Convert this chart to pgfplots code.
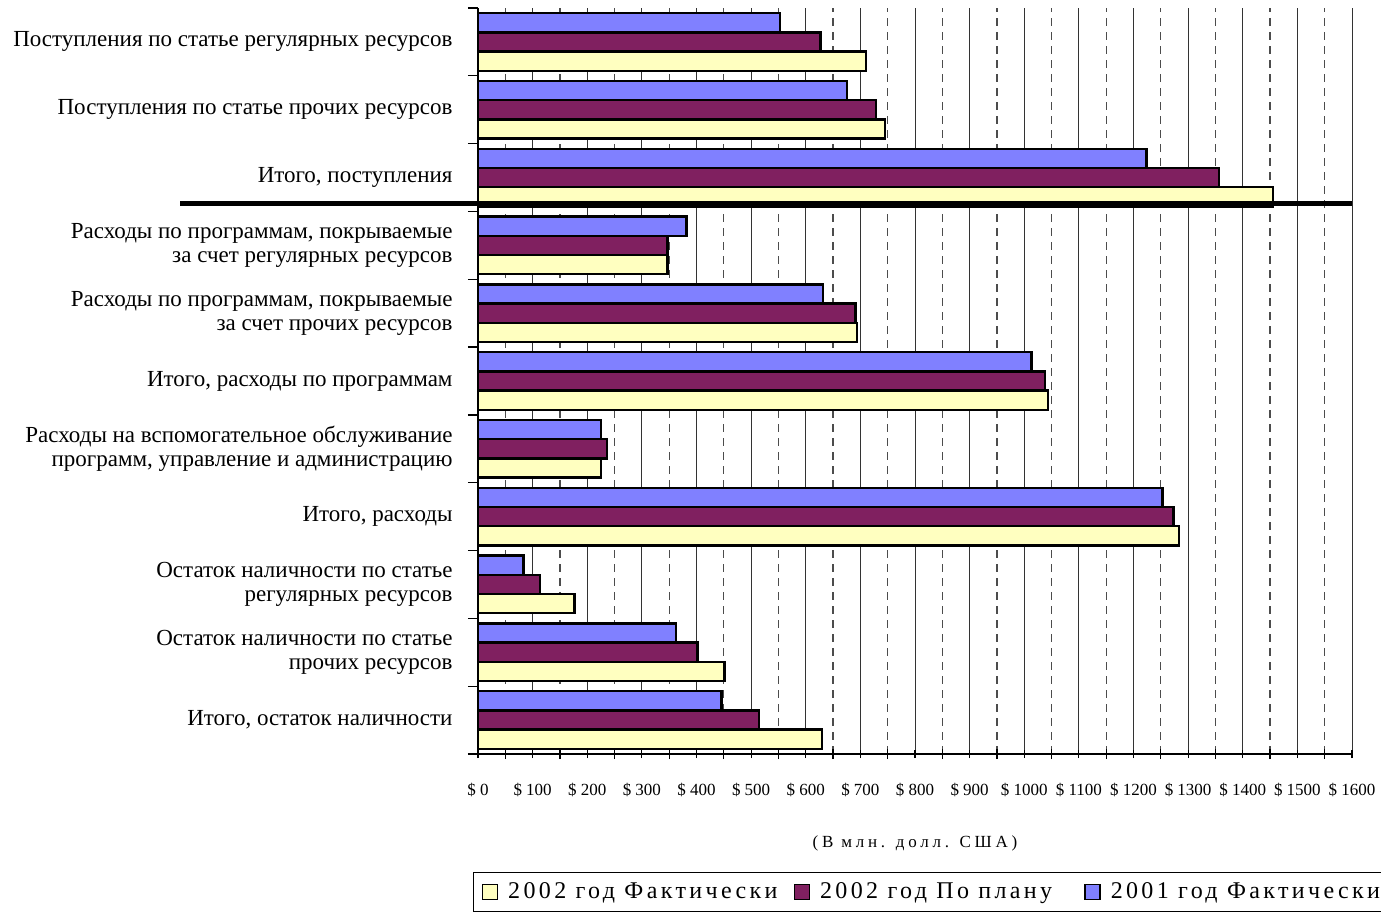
\documentclass[border=0pt]{standalone}
\usepackage{pgfplots}
\pgfplotsset{compat=1.18}
\usepackage{fontspec}
\setmainfont{Liberation Serif}
\newfontfamily\spacedA[LetterSpace=22]{Liberation Serif}
\newfontfamily\spacedB[LetterSpace=14]{Liberation Serif}
\definecolor{cyel}{HTML}{FFFFC0}
\definecolor{cpur}{HTML}{802060}
\definecolor{cblu}{HTML}{8080FF}
\begin{document}
\begin{tikzpicture}
\path[use as bounding box] (0,0) rectangle (690.5pt,457.5pt);
\begin{axis}[
 at={(239pt,80.5pt)}, anchor=south west,
 scale only axis, width=437pt, height=373pt,
 xbar, bar width=9.6pt,
 xmin=0, xmax=1600, ymin=-0.5, ymax=10.5,
 clip=false,
 axis x line=bottom, axis y line=left,
 axis line style={-, line width=0.7pt},
 xtick={0,100,...,1600},
 xticklabels={\$ 0,\$ 100,\$ 200,\$ 300,\$ 400,\$ 500,\$ 600,\$ 700,\$ 800,\$ 900,\$ 1000,\$ 1100,\$ 1200,\$ 1300,\$ 1400,\$ 1500,\$ 1600},
 minor xtick={50,150,...,1550},
 ytick={0,...,10},
 yticklabels={
  {Итого, остаток наличности},
  {Остаток наличности по статье\\прочих ресурсов},
  {Остаток наличности по статье\\регулярных ресурсов},
  {Итого, расходы},
  {Расходы на вспомогательное обслуживание\\программ, управление и администрацию},
  {Итого, расходы по программам},
  {Расходы по программам, покрываемые\\за счет прочих ресурсов},
  {Расходы по программам, покрываемые\\за счет регулярных ресурсов},
  {Итого, поступления},
  {Поступления по статье прочих ресурсов},
  {Поступления по статье регулярных ресурсов}},
 minor ytick={-0.5,0.5,...,10.5},
 tick align=outside,
 major tick length=4pt, minor tick length=5pt,
 tick style={black, line width=0.6pt},
 every major y tick/.append style={draw=none},
 every major x tick/.append style={yshift=2pt},
 every minor x tick/.append style={yshift=2.5pt},
 xmajorgrids, xminorgrids,
 major grid style={black!80, line width=0.5pt, solid},
 minor grid style={black!70, line width=0.6pt, dash pattern=on 4pt off 3pt},
 yticklabel style={align=right, font=\fontsize{11.5}{12}\selectfont, xshift=-5.2pt},
 xticklabel style={font=\fontsize{8.5}{10}\selectfont, yshift=-7pt},
 legend columns=3,
 legend style={at={(-0.0057,-0.158)}, anchor=north west, draw=black, line width=0.6pt,
   font=\spacedB\fontsize{12}{14}\selectfont, inner xsep=4pt, inner ysep=3pt,
   /tikz/every odd column/.append style={column sep=3pt},
   /tikz/every even column/.append style={column sep=6pt}},
 legend image code/.code={\draw[#1, draw=black, line width=0.8pt] (0pt,-3.75pt) rectangle (7.5pt,3.75pt);},
]
\addplot[fill=cyel, draw=black, line width=1.2pt, bar shift=-9.6pt] coordinates {
 (710,10) (745,9) (1455,8) (347,7) (694,6) (1043,5) (225,4) (1283,3) (177,2) (451,1) (630,0)};
\addlegendentry{2002 год Фактически}
\addplot[fill=cpur, draw=black, line width=1.2pt, bar shift=0pt] coordinates {
 (627,10) (729,9) (1356,8) (347,7) (691,6) (1038,5) (236,4) (1273,3) (113,2) (402,1) (514,0)};
\addlegendentry{2002 год По плану\rule{8pt}{0pt}}
\addplot[fill=cblu, draw=black, line width=1.2pt, bar shift=9.6pt] coordinates {
 (553,10) (676,9) (1224,8) (382,7) (632,6) (1013,5) (225,4) (1253,3) (83,2) (362,1) (446,0)};
\addlegendentry{2001 год Фактически\rule{40pt}{0pt}}
\draw[line width=2.5pt] (axis cs:-545,7.61) -- (axis cs:1600,7.61);
\end{axis}
\node[font=\spacedA\fontsize{8.5}{10}\selectfont] at (457.5pt,36pt) {(В млн. долл. США)};
\end{tikzpicture}
\end{document}
